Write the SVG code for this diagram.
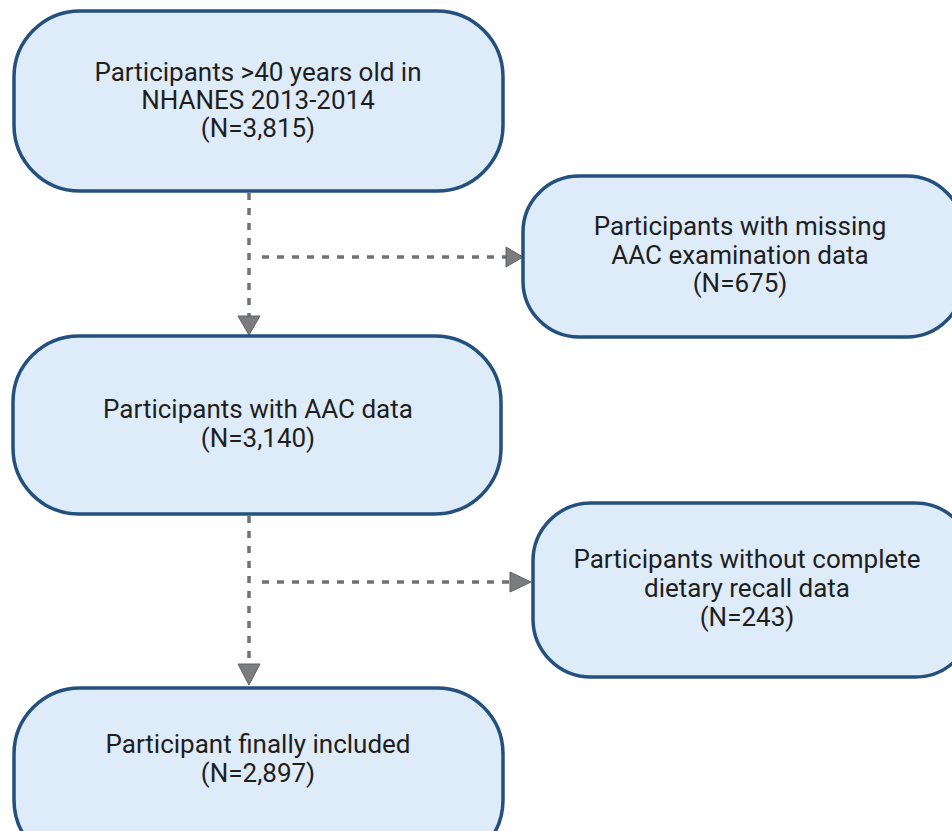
<svg xmlns="http://www.w3.org/2000/svg" width="952" height="831" viewBox="0 0 952 831">
<defs>
<style>
.box{fill:#deebf8;stroke:#24507d;stroke-width:3.5}
.t{font-family:Roboto,"Liberation Sans",sans-serif;font-size:26px;fill:#1e1e1e;text-anchor:middle}
.c{fill:none;stroke:#6f7173;stroke-width:3.5;stroke-dasharray:7 8}
.ah{fill:#7a7c7e;stroke:#5f6163;stroke-width:1}
</style>
</defs>
<rect width="952" height="831" fill="#ffffff"/>
<g id="connectors">
<line class="c" x1="249" y1="193" x2="249" y2="316"/>
<polygon class="ah" points="238,316 260,316 249,335"/>
<line class="c" x1="262" y1="257" x2="506" y2="257"/>
<polygon class="ah" points="506,247 506,267 523,257"/>
<line class="c" x1="249" y1="516" x2="249" y2="664"/>
<polygon class="ah" points="238,664 260,664 249,685"/>
<line class="c" x1="262" y1="582" x2="510" y2="582"/>
<polygon class="ah" points="510,572 510,592 531,582"/>
</g>
<g id="n1">
<rect class="box" x="14" y="11" width="489" height="180" rx="66"/>
<text class="t" x="258" y="81">Participants &gt;40 years old in</text>
<text class="t" x="258" y="109">NHANES 2013-2014</text>
<text class="t" x="258" y="137">(N=3,815)</text>
</g>
<g id="n2">
<rect class="box" x="523" y="176" width="440" height="161" rx="56"/>
<text class="t" x="740" y="235">Participants with missing</text>
<text class="t" x="740" y="264">AAC examination data</text>
<text class="t" x="740" y="292">(N=675)</text>
</g>
<g id="n3">
<rect class="box" x="13" y="336" width="488" height="178" rx="66"/>
<text class="t" x="258" y="418">Participants with AAC data</text>
<text class="t" x="258" y="447">(N=3,140)</text>
</g>
<g id="n4">
<rect class="box" x="533" y="503" width="440" height="174" rx="58"/>
<text class="t" x="747" y="568">Participants without complete</text>
<text class="t" x="747" y="597">dietary recall data</text>
<text class="t" x="747" y="626">(N=243)</text>
</g>
<g id="n5">
<rect class="box" x="14" y="688" width="489" height="178" rx="66"/>
<text class="t" x="258" y="753">Participant finally included</text>
<text class="t" x="258" y="782">(N=2,897)</text>
</g>
</svg>
